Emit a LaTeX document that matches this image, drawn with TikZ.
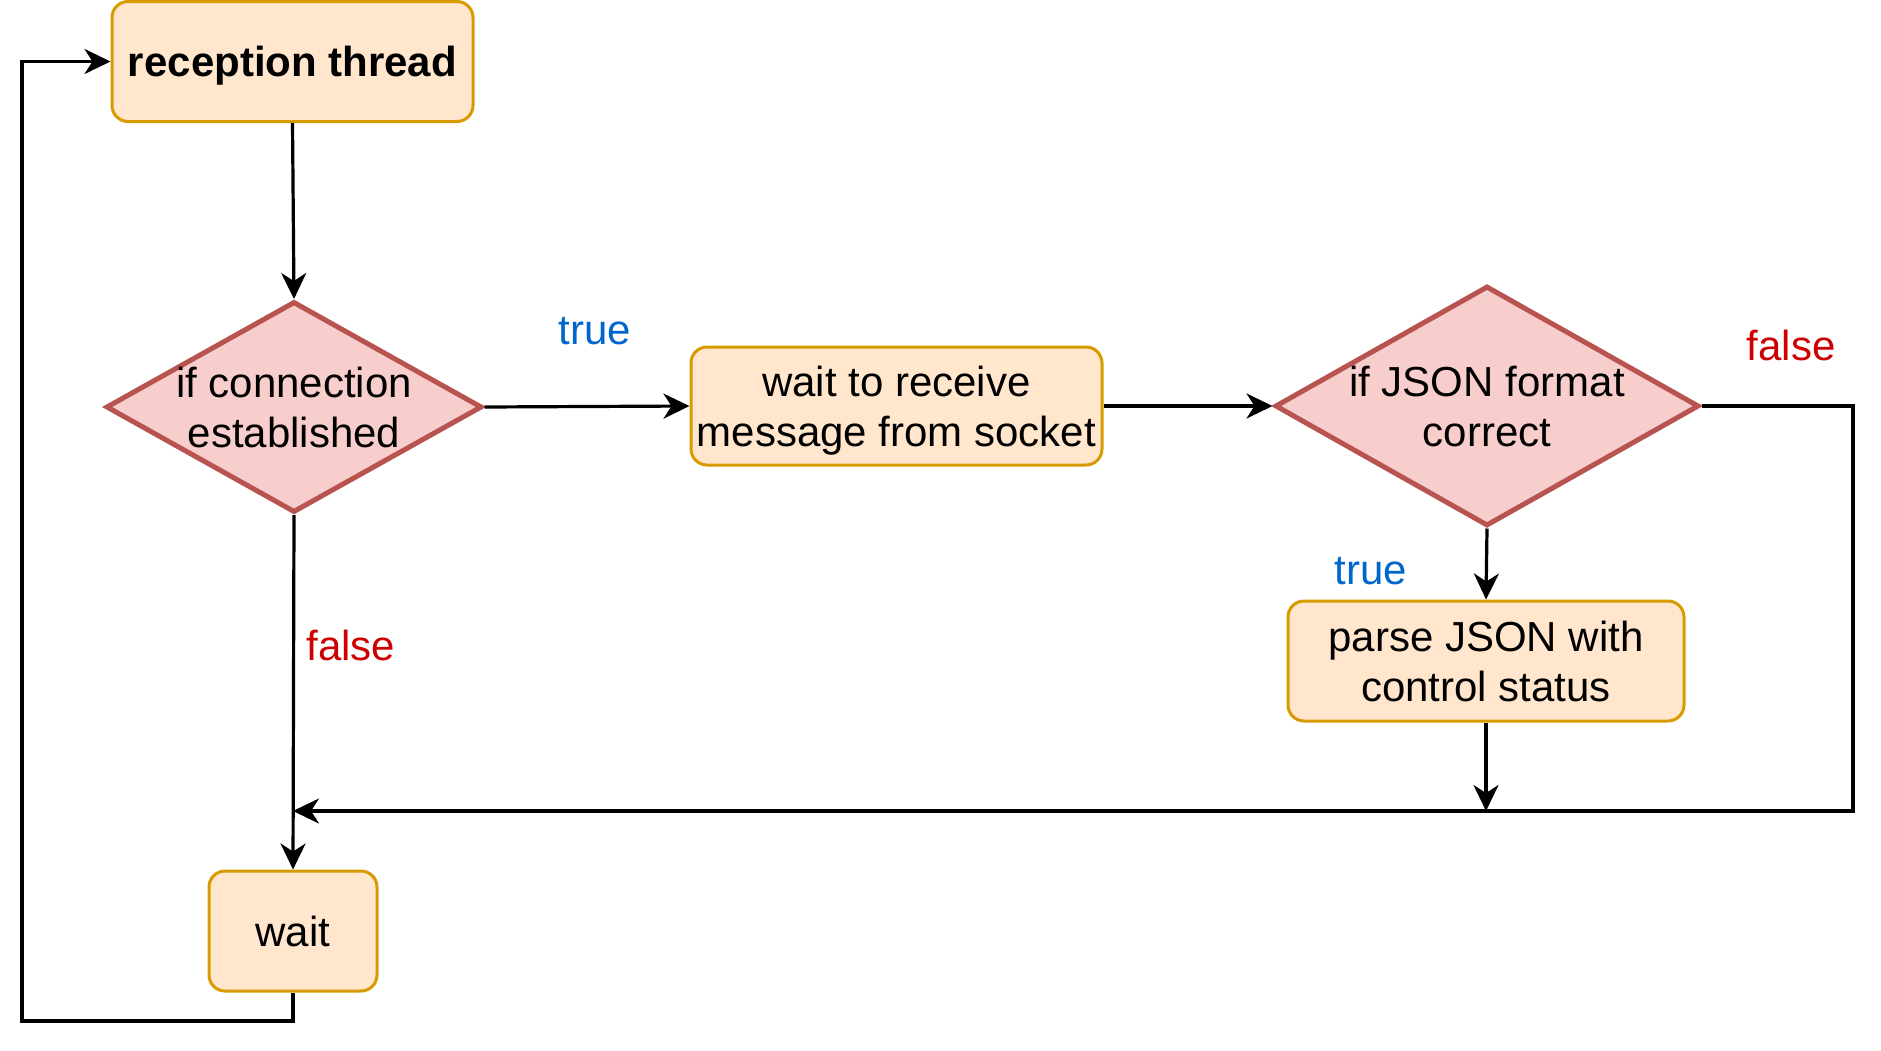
\documentclass[tikz,border=0pt]{standalone}
\usepackage{fontspec}
\setmainfont{Liberation Sans}
\usetikzlibrary{shapes.geometric,arrows.meta}
\definecolor{boxfill}{HTML}{FFE6CC}
\definecolor{boxdraw}{HTML}{D79B00}
\definecolor{diafill}{HTML}{F8CECC}
\definecolor{diadraw}{HTML}{B85450}
\definecolor{truecol}{HTML}{0066CC}
\definecolor{falsecol}{HTML}{CC0000}
\newcommand\lstrut{\rule[-10pt]{0pt}{50pt}}
\tikzset{
  basefont/.style={font=\fontsize{42}{50}\selectfont},
  stepbox/.style={basefont, draw=boxdraw, fill=boxfill, line width=3pt, rounded corners=16pt, align=center, inner sep=0pt},
  decision/.style={diamond, draw=diadraw, fill=diafill, line width=5pt, inner sep=0pt},
  dtext/.style={basefont, align=center, inner sep=0pt},
  conn/.style={line width=3.2pt, -{Stealth[length=26pt,width=25pt,inset=8pt]}},
  truelbl/.style={basefont, text=truecol, inner sep=0pt},
  falselbl/.style={basefont, text=falsecol, inner sep=0pt},
}
\begin{document}
\begin{tikzpicture}[x=1pt,y=-1pt]
\useasboundingbox (0,0) rectangle (1881,1050);
\node[stepbox, minimum width=361pt, minimum height=120pt] (rt) at (292.5,61.5) {\bfseries reception thread\lstrut};
\node[decision, minimum width=376pt, minimum height=211pt] (d1) at (294,407) {};
\node[dtext] (d1t) at (d1) {if connection\lstrut\\established\lstrut};
\node[stepbox, minimum width=411pt, minimum height=118pt] (wr) at (896.5,406) {wait to receive\lstrut\\message from socket\lstrut};
\node[decision, minimum width=424pt, minimum height=240pt] (d2) at (1487,406) {};
\node[dtext] (d2t) at (d2) {if JSON format\lstrut\\correct\lstrut};
\node[stepbox, minimum width=396pt, minimum height=120pt] (pj) at (1486,661) {parse JSON with\lstrut\\control status\lstrut};
\node[stepbox, minimum width=168pt, minimum height=120pt] (wt) at (293,931) {wait\lstrut};

\coordinate (jn) at (293,811);
\coordinate (rx) at (1853,811);
\coordinate (pd) at (1486,811);
\coordinate (bl) at (22,1021);

\node[truelbl] (t1) at (595,331) {true};
\node[falselbl] (f1) at (351,645) {false};
\node[truelbl] (t2) at (1371,571) {true};
\node[falselbl] (f2) at (1791,345) {false};

\draw[conn] (rt.south) -- (d1.north);
\draw[conn] (d1.east) -- (wr.west);
\draw[conn] (wr.east) -- (d2.west);
\draw[conn] (d2.south) -- (pj.north);
\draw[conn] (pj.south) -- (pd);
\draw[conn] (d2.east) -- (rx |- d2.east) -- (rx) -- (jn);
\draw[conn] (d1.south) -- (wt.north);
\draw[conn] (wt.south) -- (wt.south |- bl) -- (bl) -- (bl |- rt.west) -- (rt.west);
\end{tikzpicture}
\end{document}
